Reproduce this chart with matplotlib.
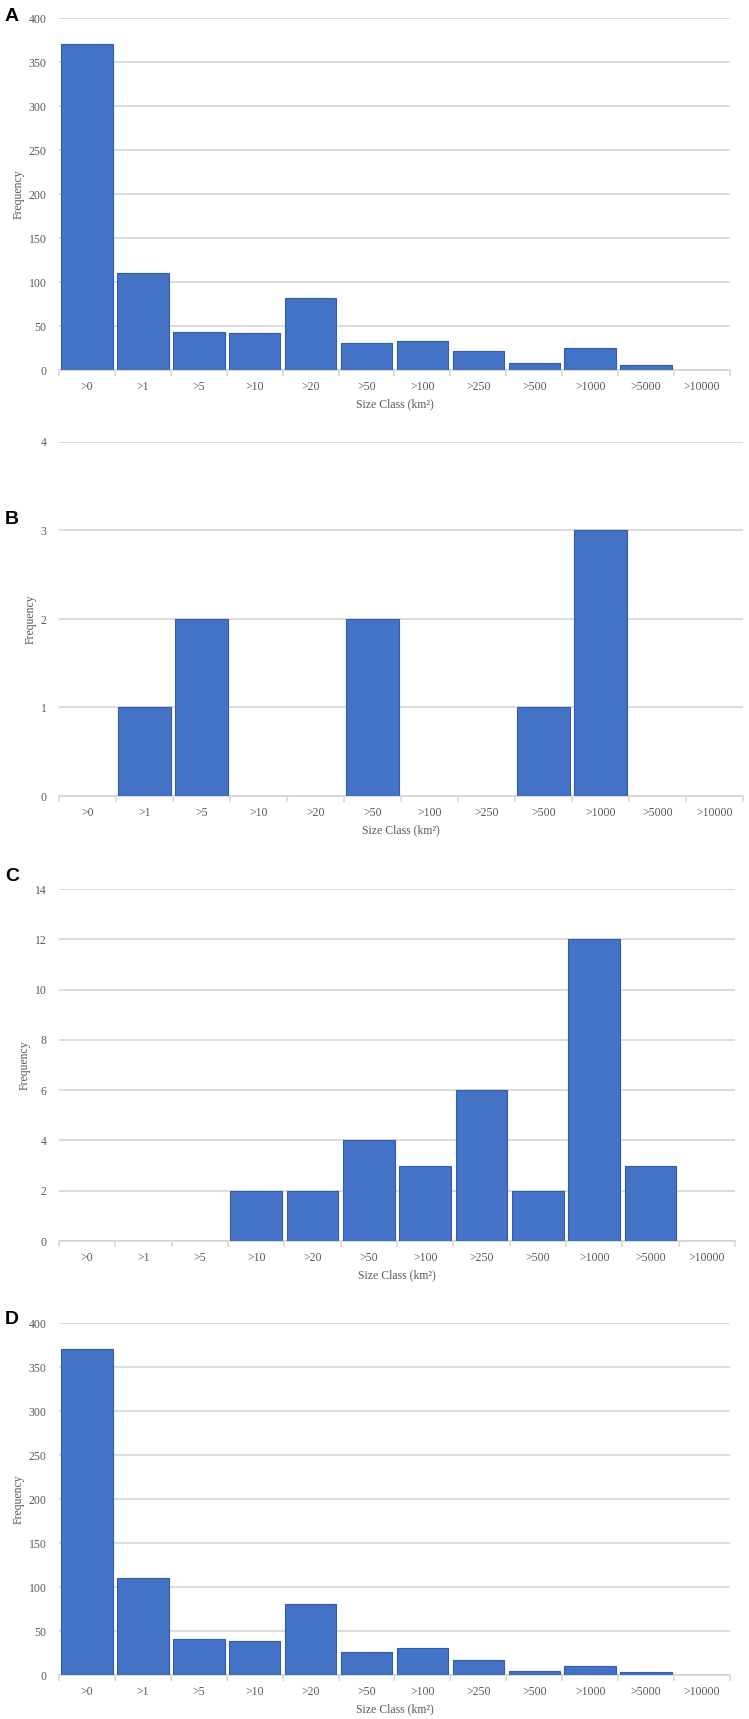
import numpy as np
import matplotlib
matplotlib.use("Agg")
import matplotlib.pyplot as plt
from matplotlib.ticker import FixedLocator

# klasy wielkosci (km2)
klasy = [">0", ">1", ">5", ">10", ">20", ">50", ">100", ">250", ">500", ">1000", ">5000", ">10000"]

czestosc_a = [370, 110, 43, 42, 82, 31, 33, 22, 8, 25, 6, 0]
czestosc_b = [0, 1, 2, 0, 0, 2, 0, 0, 1, 3, 0, 0]
czestosc_c = [0, 0, 0, 2, 2, 4, 3, 6, 2, 12, 3, 0]
czestosc_d = [370, 110, 41, 39, 81, 26, 31, 17, 5, 10, 3, 0]

panele = ["A", "B", "C", "D"]
y_max = [400, 4, 14, 400]
y_krok = [50, 1, 2, 50]

W, H = 749, 1719
# pozycje osi w pikselach: lewa, prawa, gora, dol
pozycje = [(59, 730, 18, 370), (59, 743, 442, 796), (59, 735, 889, 1241), (59, 730, 1323, 1675)]
litery_y = [16.5, 519, 876, 1319]

szary = "#d9d9d9"
tekst = "#595959"
niebieski = "#4472c4"
krawedz = "#2f5bb0"

plt.rcParams['font.family'] = ['Liberation Serif', 'DejaVu Serif']

fig = plt.figure(figsize=(W / 100, H / 100), dpi=100)

dane = [czestosc_a, czestosc_b, czestosc_c, czestosc_d]
x = np.arange(len(klasy))

for i, wart in enumerate(dane):
    l, r, t, b = pozycje[i]
    ax = fig.add_axes([l / W, (H - b) / H, (r - l) / W, (b - t) / H])
    ax.set_axisbelow(True)
    ax.bar(x, wart, width=0.92, color=niebieski, edgecolor=krawedz, linewidth=0.8, zorder=3)
    ax.set_xlim(-0.5, len(klasy) - 0.5)
    ax.set_ylim(0, y_max[i])
    ax.set_yticks(np.arange(0, y_max[i] + 0.1, y_krok[i]))
    ax.grid(axis='y', color=szary, linewidth=1.3)
    for s in ["top", "right", "left"]:
        ax.spines[s].set_visible(False)
    ax.spines["bottom"].set_color(szary)
    ax.spines["bottom"].set_linewidth(1.3)
    ax.set_xticks(x)
    ax.set_xticklabels(klasy)
    ax.xaxis.set_minor_locator(FixedLocator(np.arange(-0.5, len(klasy), 1)))
    ax.tick_params(axis='x', which='major', length=0, pad=8, labelsize=8.5, labelcolor=tekst)
    ax.tick_params(axis='x', which='minor', length=4, width=1.2, color=szary)
    ax.tick_params(axis='y', length=0, pad=9, labelsize=8.5, labelcolor=tekst)
    ax.set_xlabel("Size Class (km²)", fontsize=8.5, color=tekst, labelpad=4)
    ax.set_ylabel("Frequency", fontsize=8.5, color=tekst, labelpad=3)
    fig.text(5 / W, 1 - litery_y[i] / H, panele[i], fontsize=14, fontweight='bold',
             family=['Liberation Sans', 'DejaVu Sans'], ha='left', va='center')

fig.savefig("out.png", dpi=100)
